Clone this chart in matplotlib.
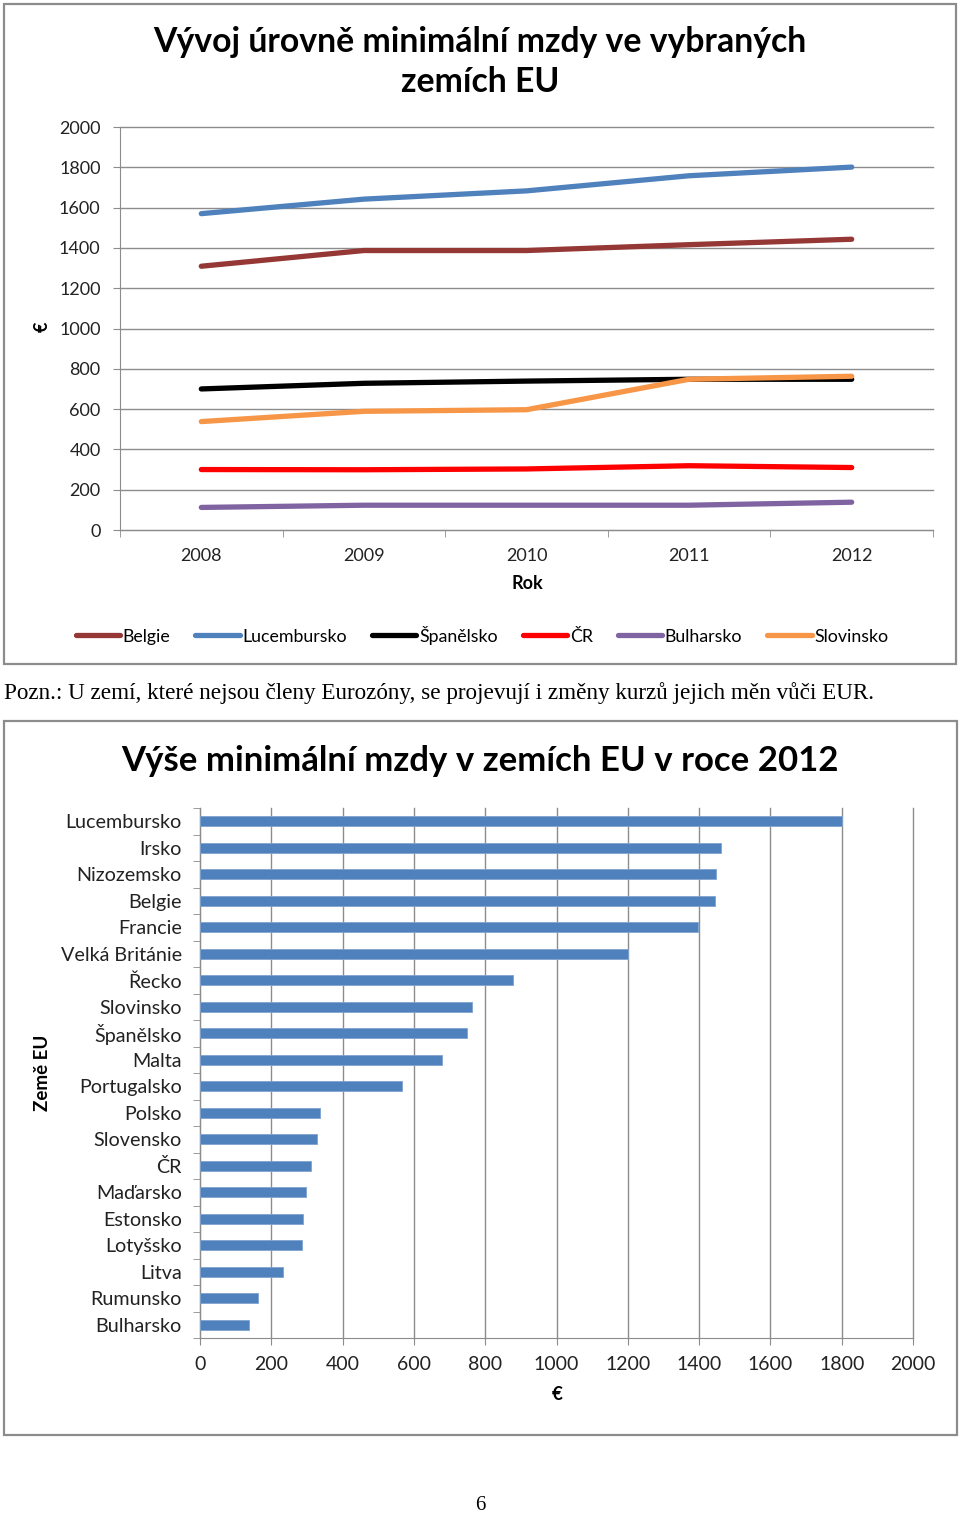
import numpy as np
import matplotlib.pyplot as plt
from matplotlib.patches import Rectangle

# data: top chart (minimum wage trend, EUR)
years = ['2008', '2009', '2010', '2011', '2012']
belgie = [1309, 1387, 1387, 1416, 1443]
lucembursko = [1570, 1642, 1683, 1758, 1801]
spanelsko = [700, 728, 739, 748, 748]
cr = [300, 299, 303, 319, 310]
bulharsko = [112, 123, 123, 123, 138]
slovinsko = [538, 589, 597, 748, 763]

series_names = ['Belgie', 'Lucembursko', 'Španělsko', 'ČR', 'Bulharsko', 'Slovinsko']
series_colors = ['#953735', '#4F81BD', '#000000', '#FF0000', '#8064A2', '#F79646']

# data: bottom chart (minimum wage 2012, EUR)
countries = ['Lucembursko', 'Irsko', 'Nizozemsko', 'Belgie', 'Francie', 'Velká Británie',
             'Řecko', 'Slovinsko', 'Španělsko', 'Malta', 'Portugalsko', 'Polsko',
             'Slovensko', 'ČR', 'Maďarsko', 'Estonsko', 'Lotyšsko', 'Litva',
             'Rumunsko', 'Bulharsko']
wage_2012 = [1801, 1462, 1447, 1444, 1398, 1200, 877, 763, 748, 680, 566, 336,
             327, 310, 296, 290, 286, 232, 162, 138]

plt.rcParams['font.family'] = ['Lato', 'DejaVu Sans']
GRID = '#8c8c8c'
W, H = 960, 1517

fig = plt.figure(figsize=(9.6, 15.17), dpi=100)

def fx(px):
    return px / W

def fy(py):
    return 1 - py / H

# frames around the two charts
for (x0, y0, x1, y1) in [(4, 4, 956, 664), (4, 721, 957, 1435)]:
    fig.patches.append(Rectangle((fx(x0), fy(y1)), fx(x1 - x0), (y1 - y0) / H,
                                 transform=fig.transFigure, fill=False,
                                 edgecolor='#8c8c8c', lw=1.6))

# ---------------- top line chart ----------------
ax1 = fig.add_axes([fx(120), fy(530), fx(933 - 120), (530 - 127) / H])
all_series = [belgie, lucembursko, spanelsko, cr, bulharsko, slovinsko]
xs = np.arange(len(years))
for name, vals, col in zip(series_names, all_series, series_colors):
    ax1.plot(xs, vals, color=col, lw=3.8, solid_capstyle='round',
             solid_joinstyle='round', label=name)

ax1.set_xlim(-0.5, len(years) - 0.5)
ax1.set_ylim(0, 2000)
ax1.set_yticks(np.arange(0, 2001, 200))
ax1.yaxis.grid(True, color=GRID, lw=1)
for gl in ax1.get_ygridlines():
    gl.set_clip_on(False)
ax1.set_axisbelow(True)
for s in ['top', 'right']:
    ax1.spines[s].set_visible(False)
for s in ['left', 'bottom']:
    ax1.spines[s].set_color(GRID)
ax1.set_xticks(xs)
ax1.set_xticklabels(years)
ax1.set_xticks(np.arange(-0.5, len(years), 1.0), minor=True)
ax1.tick_params(axis='x', which='major', length=0, pad=13, labelsize=13, colors='#222222')
ax1.tick_params(axis='x', which='minor', length=5, color=GRID)
ax1.tick_params(axis='y', length=5, color=GRID, pad=9, labelsize=13, labelcolor='#222222')

fig.text(fx(480), fy(62), 'Vývoj úrovně minimální mzdy ve vybraných\nzemích EU',
         ha='center', va='center', fontsize=24.3, fontweight='bold', linespacing=1.33)
ax1.text((527 - 120) / 813, (530 - 583) / 403, 'Rok', transform=ax1.transAxes,
         ha='center', va='center', fontsize=13, fontweight='bold')
ax1.text((42 - 120) / 813, (530 - 327) / 403, '€', transform=ax1.transAxes,
         ha='center', va='center', fontsize=13, fontweight='bold', rotation=90)

ax1.legend(loc='center', bbox_to_anchor=((482 - 120) / 813, (530 - 635) / 403),
           ncol=6, frameon=False, fontsize=12.8, handlelength=2.5,
           handletextpad=0.15, columnspacing=1.4)

# caption
fig.text(fx(4), fy(693), 'Pozn.: U zemí, které nejsou členy Eurozóny, se projevují i změny kurzů jejich měn vůči EUR.',
         ha='left', va='center', fontsize=16.7, family='Liberation Serif')

# ---------------- bottom bar chart ----------------
ax2 = fig.add_axes([fx(200), fy(1338), fx(913 - 200), (1338 - 808) / H])
ys = np.arange(len(countries))
ax2.barh(ys, wage_2012, height=0.38, color='#4F81BD', edgecolor='#7FA3D0', lw=0.6, zorder=3)
ax2.set_ylim(len(countries) - 0.5, -0.5)
ax2.set_xlim(0, 2000)
ax2.set_xticks(np.arange(0, 2001, 200))
ax2.xaxis.grid(True, color=GRID, lw=1)
for gl in ax2.get_xgridlines():
    gl.set_clip_on(False)
ax2.set_axisbelow(True)
for s in ['top', 'right']:
    ax2.spines[s].set_visible(False)
for s in ['left', 'bottom']:
    ax2.spines[s].set_color(GRID)
ax2.set_yticks(ys)
ax2.set_yticklabels(countries)
ax2.set_yticks(np.arange(-0.5, len(countries), 1.0), minor=True)
ax2.tick_params(axis='y', which='major', length=0, pad=13, labelsize=14.2, labelcolor='#222222')
ax2.tick_params(axis='y', which='minor', length=5, color=GRID)
ax2.tick_params(axis='x', length=5, color=GRID, pad=8, labelsize=14, labelcolor='#222222')

fig.text(fx(480), fy(761), 'Výše minimální mzdy v zemích EU v roce 2012',
         ha='center', va='center', fontsize=25, fontweight='bold')
ax2.text((557 - 200) / 713, (1338 - 1395) / 530, '€', transform=ax2.transAxes,
         ha='center', va='center', fontsize=13.5, fontweight='bold')
ax2.text((43 - 200) / 713, (1338 - 1073) / 530, 'Země EU', transform=ax2.transAxes,
         ha='center', va='center', fontsize=13.5, fontweight='bold', rotation=90)

# page number
fig.text(0.5, fy(1506), '6', ha='center', va='center', fontsize=15, family='Liberation Serif')

fig.savefig('out.png', dpi=100)
